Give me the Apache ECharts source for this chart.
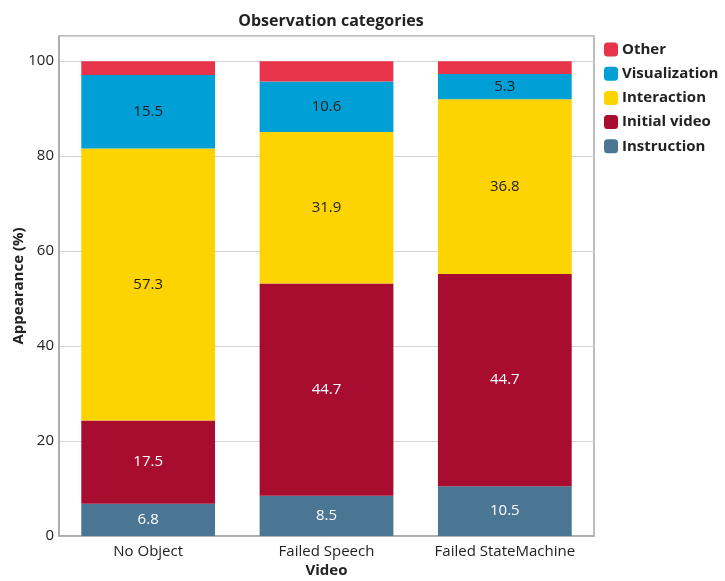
<!DOCTYPE html>
<html>
<head>
<meta charset="utf-8">
<script src="https://cdn.jsdelivr.net/npm/echarts@6/dist/echarts.min.js"></script>
<style>
  html, body { margin: 0; padding: 0; background: #fff; }
  #chart { width: 725px; height: 581px; }
</style>
</head>
<body>
<div id="chart"></div>
<script>
// Observation categories per video condition (percent of appearances)
const videos = ['No Object', 'Failed Speech', 'Failed StateMachine'];
const instruction   = [6.8, 8.5, 10.5];
const initialVideo  = [17.5, 44.7, 44.7];
const interaction   = [57.3, 31.9, 36.8];
const visualization = [15.5, 10.6, 5.3];
const other         = [2.9, 4.3, 2.7];
const yTicks = [0, 20, 40, 60, 80, 100];

const FONT = '"Open Sans", "Noto Sans", sans-serif';

const layers = [
  { name: 'Instruction',   data: instruction,   color: '#4A7593', label: '#ffffff', show: true },
  { name: 'Initial video', data: initialVideo,  color: '#A80D30', label: '#ffffff', show: true },
  { name: 'Interaction',   data: interaction,   color: '#FDD300', label: '#222222', show: true },
  { name: 'Visualization', data: visualization, color: '#009FD5', label: '#222222', show: true },
  { name: 'Other',         data: other,         color: '#E8344A', label: '#222222', show: false }
];

const chart = echarts.init(document.getElementById('chart'), null, { renderer: 'canvas' });

chart.setOption({
  backgroundColor: '#ffffff',
  animation: false,
  title: {
    text: 'Observation categories',
    left: 326,
    textAlign: 'center',
    top: 8,
    textStyle: { fontFamily: FONT, fontSize: 16, fontWeight: 'bold', color: '#222' }
  },
  legend: {
    orient: 'vertical',
    left: 599,
    top: 37,
    itemWidth: 14,
    itemHeight: 14,
    itemGap: 9.2,
    icon: 'roundRect',
    data: ['Other', 'Visualization', 'Interaction', 'Initial video', 'Instruction'],
    textStyle: { fontFamily: FONT, fontSize: 15, fontWeight: 'bold', color: '#222', padding: [0, 0, 0, -1] }
  },
  grid: {
    left: 59, right: 131, top: 36, bottom: 45,
    show: true,
    borderColor: '#a8a8a8',
    borderWidth: 1.5,
    containLabel: false,
    outerBoundsMode: 'none'
  },
  xAxis: {
    type: 'category',
    data: videos,
    name: 'Video',
    nameLocation: 'middle',
    nameGap: 27,
    nameMoveOverlap: false,
    nameTextStyle: { fontFamily: FONT, fontSize: 15, fontWeight: 'bold', color: '#222' },
    axisLine: { lineStyle: { color: '#a8a8a8', width: 1.5 } },
    axisTick: { show: false },
    axisLabel: { interval: 0, fontFamily: FONT, fontSize: 15, color: '#222', margin: 8 }
  },
  yAxis: {
    type: 'value',
    min: 0,
    max: 105.3,
    interval: 20,
    name: 'Appearance (%)',
    nameLocation: 'middle',
    nameGap: 33,
    nameMoveOverlap: false,
    nameTextStyle: { fontFamily: FONT, fontSize: 15, fontWeight: 'bold', color: '#222' },
    axisLine: { show: true, lineStyle: { color: '#a8a8a8', width: 1.5 } },
    axisTick: { show: false },
    axisLabel: {
      fontFamily: FONT, fontSize: 15, color: '#222', margin: 5,
      showMaxLabel: false,
      formatter: v => (yTicks.indexOf(v) >= 0 ? String(v) : '')
    },
    splitLine: { show: true, lineStyle: { color: '#d4d4d4', width: 1 } }
  },
  series: layers.map(l => ({
    name: l.name,
    type: 'bar',
    stack: 'total',
    barWidth: '75%',
    data: l.data,
    itemStyle: { color: l.color },
    label: {
      show: l.show,
      position: 'inside',
      fontFamily: FONT,
      fontSize: 15,
      color: l.label,
      formatter: p => p.value.toFixed(1)
    }
  }))
});
</script>
</body>
</html>
